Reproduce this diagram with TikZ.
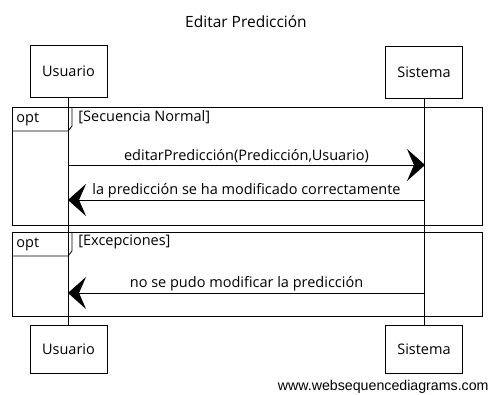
\documentclass[tikz,border=0pt]{standalone}
\usepackage{fontspec}
\setmainfont{Open Sans}
\newfontfamily\wmfont{Liberation Sans}
\usetikzlibrary{arrows.meta,positioning}

\tikzset{
  every path/.style={line width=0.8pt},
  actor/.style={draw, minimum width=77pt, minimum height=52pt, inner sep=0pt,
    font=\fontsize{14.5}{16}\selectfont},
  lifeline/.style={draw},
  frame/.style={draw},
  msg/.style={-{Stealth[length=18pt,width=32pt,inset=7pt]}},
  msglabel/.style={above=0pt, midway, inner sep=2pt, font=\fontsize{14.5}{16}\selectfont},
  guard/.style={anchor=west, inner sep=0pt, font=\fontsize{14.5}{16}\selectfont}
}

\begin{document}
\begin{tikzpicture}[x=1pt, y=-1pt]
  \useasboundingbox (0,0) rectangle (491,395);

  % title
  \draw (246,22) node[font=\fontsize{15.5}{17}\selectfont] (title) {Editar Predicción};

  % participants
  \draw (68.5,71) node[actor] (usrtop) {Usuario};
  \draw (424,72) node[actor] (sistop) {Sistema};
  \draw (68.5,349) node[actor, minimum height=48pt] (usrbot) {Usuario};
  \draw (424,349) node[actor, minimum height=48pt] (sisbot) {Sistema};

  % opt frames
  \draw[frame] (12,107) rectangle (482,225);
  \draw[frame] (12,131) -- (68,131) -- (72,126) -- (72,107);
  \draw (16,119) node[guard] (opt1) {opt};
  \draw (78,117) node[guard] (guard1) {[Secuencia Normal]};

  \draw[frame] (12,232) rectangle (482,316);
  \draw[frame] (12,256) -- (68,256) -- (72,251) -- (72,232);
  \draw (16,244) node[guard] (opt2) {opt};
  \draw (78,242) node[guard] (guard2) {[Excepciones]};

  % lifelines
  \draw[lifeline] (usrtop) -- (usrbot);
  \draw[lifeline] (sistop) -- (sisbot);

  % message ends on the lifelines
  \coordinate (m1u) at (68,165);  \coordinate (m1s) at (425,165);
  \coordinate (m2u) at (68,200);  \coordinate (m2s) at (425,200);
  \coordinate (m3u) at (68,293);  \coordinate (m3s) at (425,293);

  \draw[msg] (m1u) -- node[msglabel] {editarPredicción(Predicción,Usuario)} (m1s);
  \draw[msg] (m2s) -- node[msglabel] {la predicción se ha modificado correctamente} (m2u);
  \draw[msg] (m3s) -- node[msglabel] {no se pudo modificar la predicción} (m3u);

  % footer
  \draw (489,387) node[anchor=east, inner sep=0pt, font=\wmfont\fontsize{14.2}{16}\selectfont] (wm) {www.websequencediagrams.com};
\end{tikzpicture}
\end{document}
